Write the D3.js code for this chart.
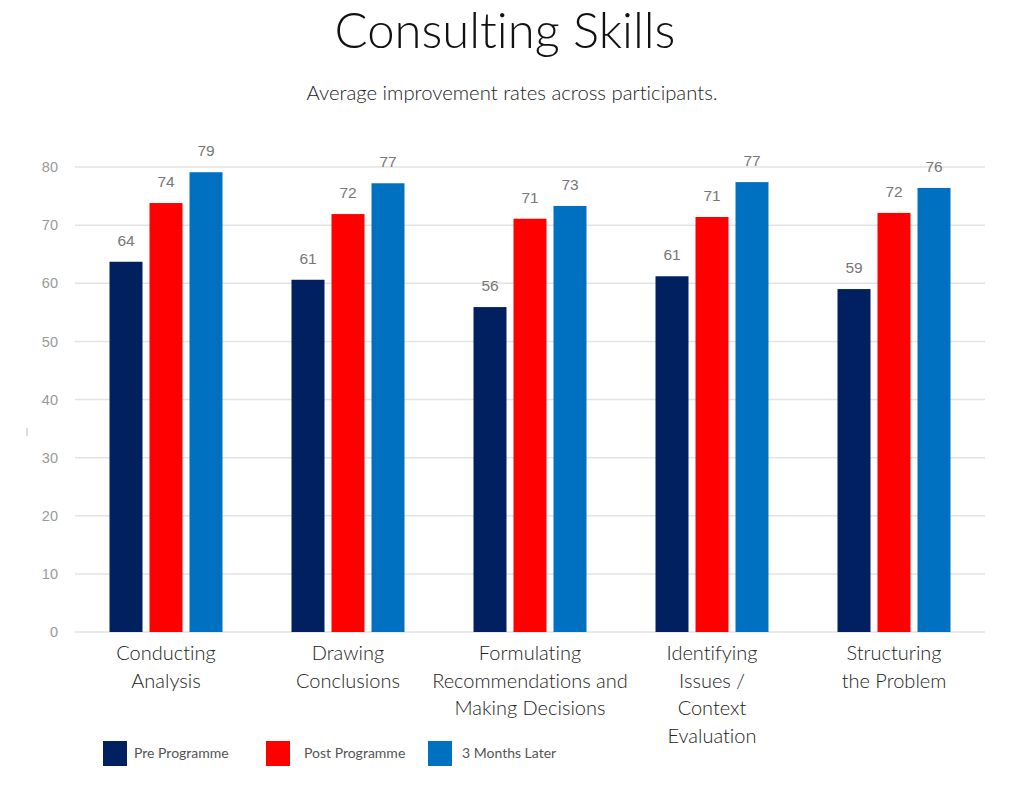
<!DOCTYPE html>
<html>
<head>
<meta charset="utf-8">
<script src="https://cdn.jsdelivr.net/npm/d3@7"></script>
<style>
  html, body { margin: 0; padding: 0; background: #fff; }
  svg { display: block; }
  text { font-variant-ligatures: none; }
</style>
</head>
<body>
<svg id="chart" width="1024" height="796"></svg>
<script>
const categories = [
  "Conducting Analysis",
  "Drawing Conclusions",
  "Formulating Recommendations and Making Decisions",
  "Identifying Issues / Context Evaluation",
  "Structuring the Problem"
];
const categoryLines = [
  ["Conducting", "Analysis"],
  ["Drawing", "Conclusions"],
  ["Formulating", "Recommendations and", "Making Decisions"],
  ["Identifying", "Issues /", "Context", "Evaluation"],
  ["Structuring", "the Problem"]
];
const seriesNames = ["Pre Programme", "Post Programme", "3 Months Later"];
const preProgramme  = [63.7, 60.6, 55.9, 61.2, 59.0];
const postProgramme = [73.8, 71.9, 71.1, 71.4, 72.1];
const threeMonths   = [79.1, 77.2, 73.3, 77.4, 76.4];
const yTicks = [0, 10, 20, 30, 40, 50, 60, 70, 80];
const colors = ["#002060", "#FF0000", "#0070C0"];

const series = [preProgramme, postProgramme, threeMonths];
const svg = d3.select("#chart");
const fontMain = "Lato, 'Open Sans', sans-serif";
const fontAxis = "'Liberation Sans', Arial, sans-serif";

// Title
svg.append("text").attr("x", 505).attr("y", 48).attr("text-anchor", "middle")
  .attr("font-family", fontMain).attr("font-weight", 300).attr("font-size", 49)
  .attr("fill", "#111").text("Consulting Skills");
svg.append("text").attr("x", 512).attr("y", 100).attr("text-anchor", "middle")
  .attr("font-family", fontMain).attr("font-weight", 300).attr("font-size", 20.3)
  .attr("fill", "#222").text("Average improvement rates across participants.");

const x0 = d3.scaleBand().domain(categories).range([75, 985]).padding(0);
const groupW = 113;
const x1 = d3.scaleBand().domain(seriesNames).range([0, groupW]).paddingInner(0.175).paddingOuter(0);
const y = d3.scaleLinear().domain([0, 80]).range([632, 167]);

// gridlines
svg.append("g").selectAll("line").data(yTicks).join("line")
  .attr("x1", 75).attr("x2", 985)
  .attr("y1", d => y(d)).attr("y2", d => y(d))
  .attr("stroke", "#e3e3e3").attr("stroke-width", 1.5);

// y axis labels
const yAxis = d3.axisLeft(y).tickValues(yTicks).tickSize(0).tickPadding(0);
const yg = svg.append("g").attr("transform", "translate(58,0)").call(yAxis);
yg.select(".domain").remove();
yg.selectAll("text").attr("font-family", fontAxis).attr("font-size", 14.5).attr("fill", "#999");

// little axis-title artifact
svg.append("line").attr("x1", 27).attr("x2", 27).attr("y1", 428).attr("y2", 436)
  .attr("stroke", "#bbb").attr("stroke-width", 1);

// bars
const groups = svg.append("g").selectAll("g").data(categories).join("g")
  .attr("transform", c => `translate(${x0(c) + (x0.bandwidth() - groupW) / 2},0)`);

groups.each(function(c, i) {
  const g = d3.select(this);
  const vals = seriesNames.map((s, k) => ({ s, k, v: series[k][i] }));
  g.selectAll("rect").data(vals).join("rect")
    .attr("x", d => x1(d.s)).attr("width", x1.bandwidth())
    .attr("y", d => y(d.v)).attr("height", d => y(0) - y(d.v))
    .attr("fill", d => colors[d.k]);
  g.selectAll("text.val").data(vals).join("text").attr("class", "val")
    .attr("x", d => x1(d.s) + x1.bandwidth() / 2).attr("y", d => y(d.v) - 16)
    .attr("text-anchor", "middle").attr("font-family", fontAxis).attr("font-size", 15.5)
    .attr("fill", "#777").text(d => d3.format(".0f")(d.v));
});

// x labels
categories.forEach((c, i) => {
  const t = svg.append("text").attr("text-anchor", "middle")
    .attr("font-family", fontMain).attr("font-weight", 300).attr("font-size", 20).attr("fill", "#222");
  categoryLines[i].forEach((line, j) => {
    t.append("tspan").attr("x", x0(c) + x0.bandwidth() / 2).attr("y", 660 + j * 27.5).text(line);
  });
});

// legend
const legendX = [103, 266, 428];
const legendTextX = [134, 304, 462];
seriesNames.forEach((s, k) => {
  svg.append("rect").attr("x", legendX[k]).attr("y", 741).attr("width", 24).attr("height", 25)
    .attr("fill", colors[k]);
  svg.append("text").attr("x", legendTextX[k]).attr("y", 758)
    .attr("font-family", fontMain).attr("font-size", 14).attr("fill", "#555").text(s);
});
</script>
</body>
</html>
